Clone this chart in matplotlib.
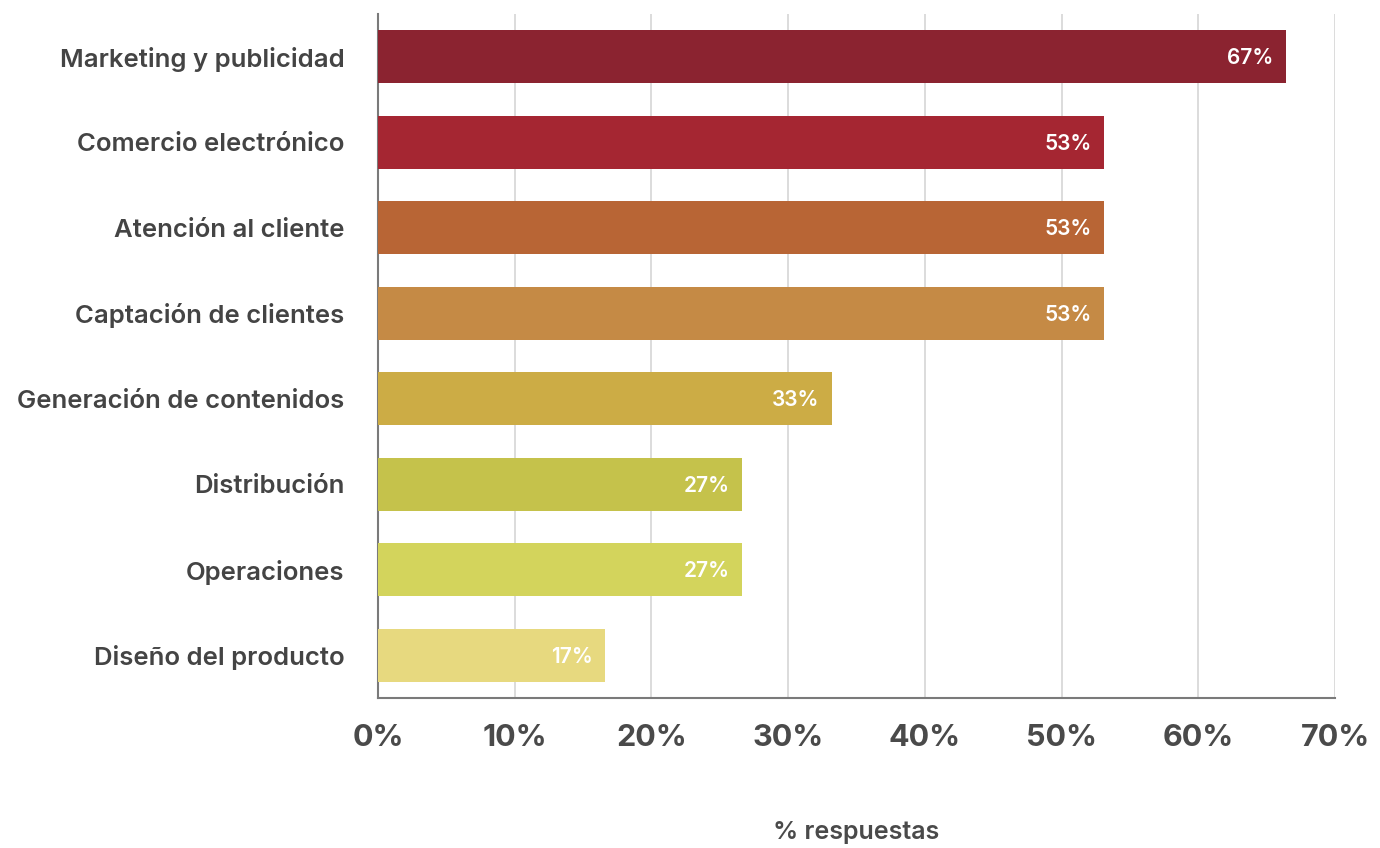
import matplotlib.pyplot as plt

# Data
categorias = [
    "Marketing y publicidad",
    "Comercio electrónico",
    "Atención al cliente",
    "Captación de clientes",
    "Generación de contenidos",
    "Distribución",
    "Operaciones",
    "Diseño del producto",
]
valores = [66.4, 53.1, 53.1, 53.1, 33.2, 26.6, 26.6, 16.6]
etiquetas = ["67%", "53%", "53%", "53%", "33%", "27%", "27%", "17%"]
colores = ["#8B2330", "#A52632", "#B86535", "#C58A45",
           "#CCAC45", "#C5C24B", "#D3D45C", "#E7D97F"]
xticks = [0, 10, 20, 30, 40, 50, 60, 70]

plt.rcParams["font.family"] = ["Inter", "DejaVu Sans"]

fig = plt.figure(figsize=(13.8, 8.48), dpi=100)
ax = fig.add_axes([378 / 1380, 1 - 698 / 848, (1335 - 378) / 1380, (698 - 14) / 848])

y = list(range(len(categorias)))
ax.barh(y, valores, height=0.62, color=colores, zorder=3)

for yi, v, lab in zip(y, valores, etiquetas):
    ax.text(v - 0.9, yi + 0.02, lab, ha="right", va="center", color="white",
            fontsize=15, fontweight="semibold", zorder=4)

ax.set_ylim(len(categorias) - 0.5, -0.5)
ax.set_xlim(0, 70)
ax.set_yticks(y)
ax.set_yticklabels(categorias, fontsize=18.5, fontweight="semibold", color="#444444")
ax.set_xticks(xticks)
ax.set_xticklabels([f"{t}%" for t in xticks], fontsize=22, fontweight="bold", color="#4a4a4a")
ax.tick_params(axis="both", length=0)
ax.tick_params(axis="x", pad=19)
ax.tick_params(axis="y", pad=24)

ax.grid(axis="x", color="#d9d9d9", linewidth=1.3, zorder=0)
for s in ["top", "right"]:
    ax.spines[s].set_visible(False)
ax.spines["left"].set_color("#7a7a7a")
ax.spines["bottom"].set_color("#7a7a7a")
ax.spines["left"].set_linewidth(1.5)
ax.spines["bottom"].set_linewidth(1.5)

fig.text(856 / 1380, 1 - 832 / 848, "% respuestas", ha="center", va="center",
         fontsize=18, fontweight="semibold", color="#4a4a4a")

fig.savefig("out.png", dpi=100)
